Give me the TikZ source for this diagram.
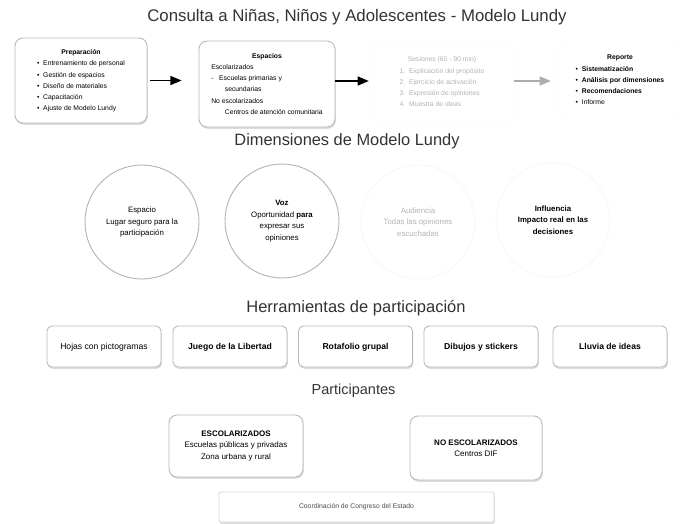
\documentclass[tikz,border=0pt]{standalone}
\usepackage{fontspec}
\setmainfont{Liberation Sans}
\usepackage[usenames,dvipsnames]{xcolor}
\usepackage{tikz}
\usetikzlibrary{shapes,arrows,shadows}

\begin{document}
\begin{tikzpicture}[x=1pt,y=-1pt,
  stagebox/.style={draw=gray!55, line width=0.9pt, rounded corners=8pt, fill=white,
    drop shadow={shadow xshift=0.8pt, shadow yshift=-1.8pt, fill=gray!55},
    inner sep=3pt, font=\fontsize{6.8}{11.2}\selectfont},
  fadedbox/.style={draw=black!2, line width=0.5pt, rounded corners=8pt,
    inner sep=3pt, font=\fontsize{6.8}{11.2}\selectfont},
  dimcircle/.style={circle, draw=gray!60, line width=0.9pt, minimum size=114pt,
    align=center, font=\fontsize{7.8}{11.6}\selectfont},
  toolbox/.style={stagebox, minimum width=114pt, minimum height=41pt, rounded corners=5pt,
    text height=1.6ex, text depth=0.4ex, font=\fontsize{8.6}{10}\selectfont},
  partbox/.style={stagebox, align=center, font=\fontsize{8}{11.4}\selectfont},
  sectitle/.style={font=\fontsize{16.5}{18}\selectfont, color=black!80},
  flow/.style={-triangle 45, line width=1.6pt}]
\useasboundingbox (0,0) rectangle (680,523);
\definecolor{fadeText}{RGB}{178,178,178}

% etapas del proceso
\node[sectitle, font=\fontsize{16.8}{18}\selectfont] (title) at (357,17) {Consulta a Niñas, Niños y Adolescentes - Modelo Lundy};
\node[stagebox, minimum width=132pt, minimum height=85pt] (prep) at (81,80.5) {%
  \begin{tabular}{@{}l@{}}
  \multicolumn{1}{c}{\textbf{Preparación}}\\
  •\ \ Entrenamiento de personal\\
  •\ \ Gestión de espacios\\
  •\ \ Diseño de materiales\\
  •\ \ Capacitación\\
  •\ \ Ajuste de Modelo Lundy
  \end{tabular}};
\node[stagebox, minimum width=136pt, minimum height=86pt] (esp) at (267,84) {%
  \begin{tabular}{@{}l@{}}
  \multicolumn{1}{c}{\textbf{Espacios}}\\
  Escolarizados\\
  -\ \ \ Escuelas primarias y\\
  \qquad secundarias\\
  No escolarizados\\
  \qquad Centros de atención comunitaria
  \end{tabular}};
\node[fadedbox, minimum width=146pt, minimum height=80pt, text=fadeText] (ses) at (442,82) {%
  \begin{tabular}{@{}l@{}}
  \multicolumn{1}{c}{Sesiones (60 - 90 min)}\\
  1.\ \ Explicación del propósito\\
  2.\ \ Ejercicio de activación\\
  3.\ \ Expresión de opiniones\\
  4.\ \ Muestra de ideas
  \end{tabular}};
\node[fadedbox, minimum width=122pt, minimum height=80pt] (rep) at (620,80) {%
  \begin{tabular}{@{}l@{}}
  \multicolumn{1}{c}{\textbf{Reporte}}\\
  •\ \ \textbf{Sistematización}\\
  •\ \ \textbf{Análisis por dimensiones}\\
  •\ \ \textbf{Recomendaciones}\\
  •\ \ Informe
  \end{tabular}};
\draw[flow] ([xshift=3pt]prep.east) -- ([xshift=-17pt]prep.east -| esp.west);
\draw[flow] ([yshift=3pt]esp.east) -- ([yshift=3pt]esp.east -| ses.west);
\draw[flow, color=gray!65] ([xshift=-1pt,yshift=1pt]ses.east) -- ([xshift=-8pt,yshift=1pt]ses.east -| rep.west);

% dimensiones
\node[sectitle, font=\fontsize{16.4}{18}\selectfont] (dimtitle) at (347,141) {Dimensiones de Modelo Lundy};
\node[dimcircle] (dimA) at (142,222) {Espacio\\Lugar seguro para la\\participación};
\node[dimcircle] (dimB) at (282,221) {\textbf{Voz}\\Oportunidad \textbf{para}\\expresar sus\\opiniones};
\node[dimcircle, draw=black!3, text=fadeText] (dimC) at (418,222) {Audiencia\\Todas las opiniones\\escuchadas};
\node[dimcircle, draw=black!3] (dimD) at (553,220) {\textbf{Influencia}\\\textbf{Impacto real en las}\\\textbf{decisiones}};

% herramientas
\node[sectitle] (tooltitle) at (356,308) {Herramientas de participación};
\node[toolbox] (toolA) at (104,346.5) {Hojas con pictogramas};
\foreach \x/\t/\n in {230/{Juego de la Libertad}/toolB, 355.5/{Rotafolio grupal}/toolC,
    481/{Dibujos y stickers}/toolD, 610/{Lluvia de ideas}/toolE}
  \node[toolbox, font=\fontsize{8.6}{10}\selectfont\bfseries] (\n) at (\x,346.5) {\t};

% participantes
\node[sectitle, font=\fontsize{14.5}{16}\selectfont] (parttitle) at (353.5,391) {Participantes};
\node[partbox, minimum width=134pt, minimum height=62pt] (esc) at (236,446) {\textbf{ESCOLARIZADOS}\\Escuelas públicas y privadas\\Zona urbana y rural};
\node[partbox, minimum width=132pt, minimum height=64pt] (noesc) at (476,448) {\textbf{NO ESCOLARIZADOS}\\Centros DIF};
\node[stagebox, draw=gray!30, rounded corners=2pt, drop shadow={shadow xshift=0.5pt, shadow yshift=-0.8pt, fill=gray!25},
  minimum width=275pt, minimum height=30pt, text=black!70] (coord) at (356.5,507) {Coordinación de Congreso del Estado};
\end{tikzpicture}
\end{document}
